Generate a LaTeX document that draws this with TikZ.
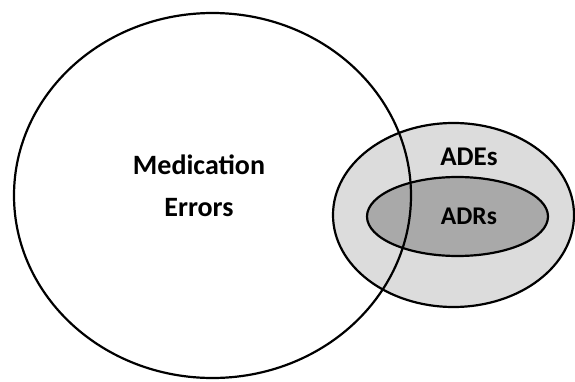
\documentclass[tikz,border=0pt]{standalone}
\usepackage{fontspec}
\setmainfont{Carlito}
\usetikzlibrary{shapes.geometric}
\definecolor{adelight}{HTML}{DCDCDC}
\definecolor{adrdark}{HTML}{A9A9A9}
\tikzset{
  set/.style={ellipse, draw=black, line width=2.2pt, inner sep=0pt},
  lbl/.style={font=\bfseries\fontsize{28}{34}\selectfont, anchor=base, inner sep=0pt},
  slbl/.style={font=\fontsize{25.5}{30}\selectfont, anchor=base, inner sep=0pt}
}
\begin{document}
\begin{tikzpicture}[x=1pt,y=1pt]
\useasboundingbox (0,0) rectangle (575,381);
\fill[white] (0,0) rectangle (575,381);
\node[set, fill=adelight, minimum width=241pt, minimum height=184pt] (ade) at (453.5,166) {};
\node[set, fill=adrdark, minimum width=181pt, minimum height=79pt] (adr) at (457.5,164.5) {};
\node[set, minimum width=397pt, minimum height=365pt] (me) at (212.5,185.5) {};
\node[lbl] (med) at (199,207) {Medication};
\node[lbl] (err) at (199,165) {Errors};
\node[lbl, font=\bfseries\fontsize{27}{32}\selectfont] (adetxt) at (469,216) {ADEs};
\node[lbl, font=\bfseries\fontsize{25.5}{30}\selectfont] (adrtxt) at (469,157) {ADRs};
\end{tikzpicture}
\end{document}
